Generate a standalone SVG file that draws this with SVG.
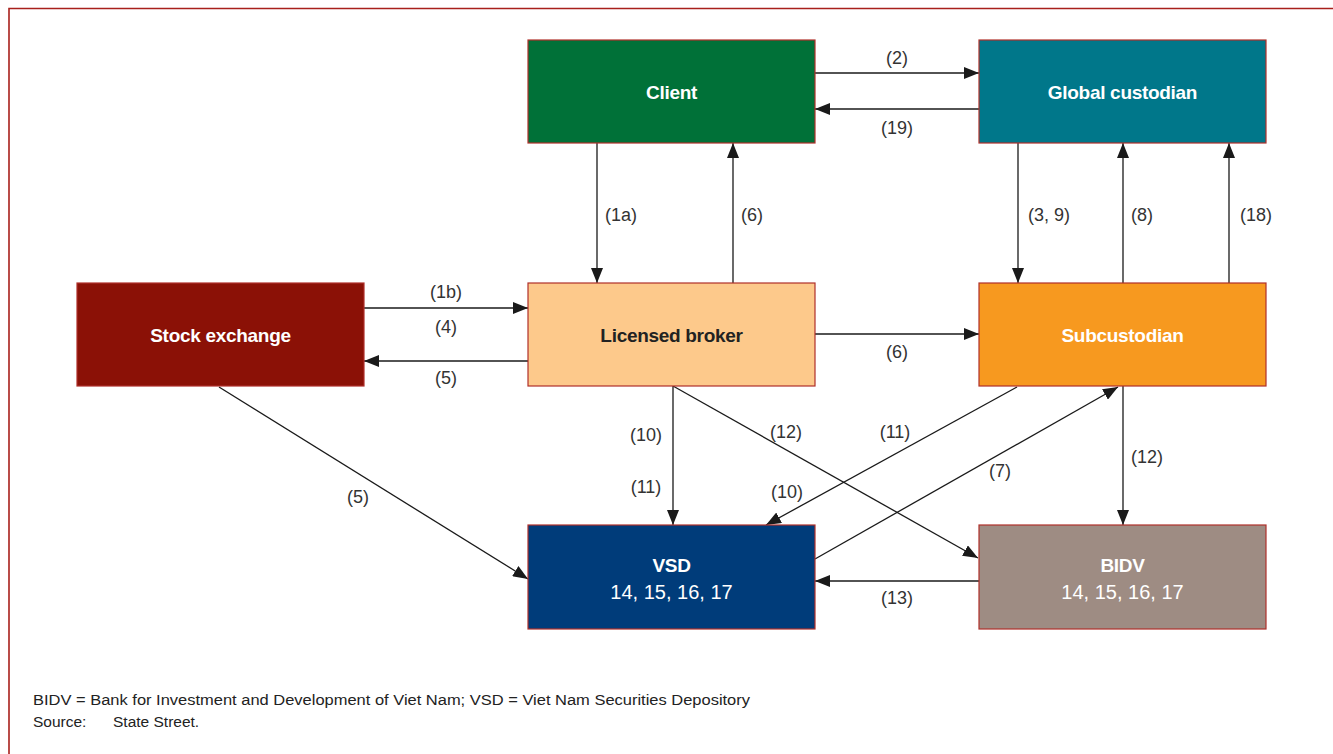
<svg xmlns="http://www.w3.org/2000/svg" width="1333" height="754" viewBox="0 0 1333 754">
<defs>
<marker id="ah" markerUnits="userSpaceOnUse" markerWidth="16" markerHeight="12" refX="15" refY="6" orient="auto">
<path d="M0,0 L15,6 L0,12 Z" fill="#1a1a1a"/>
</marker>
<style>
.box{stroke:#b0302a;stroke-width:1.2}
.t{font-family:"Liberation Sans",Arial,sans-serif;font-weight:bold;font-size:19px;text-anchor:middle;letter-spacing:-0.3px}
.n{font-family:"Liberation Sans",Arial,sans-serif;font-size:20px;text-anchor:middle;fill:#ffffff}
.c{stroke:#1a1a1a;stroke-width:1.3;fill:none}
.a{marker-end:url(#ah)}
.l{font-family:"Liberation Sans",Arial,sans-serif;font-size:18px;text-anchor:middle;fill:#333333}
.f{font-family:"Liberation Sans",Arial,sans-serif;font-size:15.5px;fill:#222222}
</style>
</defs>
<rect width="1333" height="754" fill="#ffffff"/>
<path d="M9,754 L9,8.5 L1333,8.5" fill="none" stroke="#a8201c" stroke-width="1.6"/>

<g id="connectors">
<line class="c a" x1="815" y1="73" x2="979" y2="73"/>
<line class="c a" x1="979" y1="109" x2="815" y2="109"/>
<line class="c a" x1="597" y1="143" x2="597" y2="283"/>
<line class="c a" x1="733" y1="283" x2="733" y2="143"/>
<line class="c a" x1="1018" y1="143" x2="1018" y2="283"/>
<line class="c a" x1="1123" y1="283" x2="1123" y2="143"/>
<line class="c a" x1="1229" y1="283" x2="1229" y2="143"/>
<line class="c a" x1="364" y1="308" x2="528" y2="308"/>
<line class="c a" x1="528" y1="361" x2="364" y2="361"/>
<line class="c a" x1="815" y1="334" x2="979" y2="334"/>
<line class="c a" x1="673" y1="386" x2="673" y2="525"/>
<line class="c a" x1="673" y1="386" x2="978" y2="558"/>
<line class="c a" x1="1017" y1="387" x2="766" y2="525"/>
<line class="c a" x1="815" y1="559" x2="1118" y2="387"/>
<line class="c a" x1="1123" y1="386" x2="1123" y2="525"/>
<line class="c a" x1="979" y1="581" x2="815" y2="581"/>
<line class="c a" x1="219" y1="387" x2="528" y2="579"/>
<text class="l" x="897" y="64">(2)</text>
<text class="l" x="897" y="134">(19)</text>
<text class="l" x="621" y="221">(1a)</text>
<text class="l" x="752" y="221">(6)</text>
<text class="l" x="1049" y="221">(3, 9)</text>
<text class="l" x="1142" y="221">(8)</text>
<text class="l" x="1256" y="221">(18)</text>
<text class="l" x="446" y="298">(1b)</text>
<text class="l" x="446" y="333">(4)</text>
<text class="l" x="446" y="384">(5)</text>
<text class="l" x="897" y="358">(6)</text>
<text class="l" x="646" y="441">(10)</text>
<text class="l" x="646" y="493">(11)</text>
<text class="l" x="786" y="438">(12)</text>
<text class="l" x="895" y="438">(11)</text>
<text class="l" x="787" y="498">(10)</text>
<text class="l" x="1000" y="477">(7)</text>
<text class="l" x="1147" y="463">(12)</text>
<text class="l" x="897" y="604">(13)</text>
<text class="l" x="358" y="503">(5)</text>
</g>

<g id="client">
<rect class="box" x="528" y="40" width="287" height="103" fill="#007138"/>
<text class="t" x="671.5" y="99" fill="#ffffff">Client</text>
</g>
<g id="global-custodian">
<rect class="box" x="979" y="40" width="287" height="103" fill="#00778a"/>
<text class="t" x="1122.5" y="99" fill="#ffffff">Global custodian</text>
</g>
<g id="stock-exchange">
<rect class="box" x="77" y="283" width="287" height="103" fill="#8b1106"/>
<text class="t" x="220.5" y="342" fill="#ffffff">Stock exchange</text>
</g>
<g id="licensed-broker">
<rect class="box" x="528" y="283" width="287" height="103" fill="#fdc98b"/>
<text class="t" x="671.5" y="342" fill="#222222">Licensed broker</text>
</g>
<g id="subcustodian">
<rect class="box" x="979" y="283" width="287" height="103" fill="#f7991f"/>
<text class="t" x="1122.5" y="342" fill="#ffffff">Subcustodian</text>
</g>
<g id="vsd">
<rect class="box" x="528" y="525" width="287" height="104" fill="#003c7a"/>
<text class="t" x="671.5" y="572" fill="#ffffff">VSD</text>
<text class="n" x="671.5" y="599">14, 15, 16, 17</text>
</g>
<g id="bidv">
<rect class="box" x="979" y="525" width="287" height="104" fill="#9e8c83"/>
<text class="t" x="1122.5" y="572" fill="#ffffff">BIDV</text>
<text class="n" x="1122.5" y="599">14, 15, 16, 17</text>
</g>

<g id="footer">
<text class="f" x="33" y="705" textLength="717" lengthAdjust="spacingAndGlyphs">BIDV = Bank for Investment and Development of Viet Nam; VSD = Viet Nam Securities Depository</text>
<text class="f" x="33" y="727">Source:</text>
<text class="f" x="113" y="727">State Street.</text>
</g>
</svg>
